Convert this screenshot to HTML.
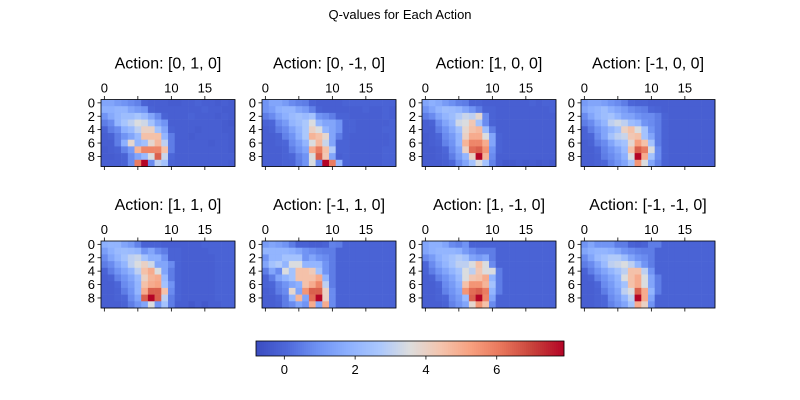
<!DOCTYPE html>
<html><head><meta charset="utf-8"><style>
html,body{margin:0;padding:0;background:#fff}
svg{display:block;font-family:"Liberation Sans","DejaVu Sans",sans-serif}
</style></head><body>
<svg id="fig" width="800" height="400" viewBox="0 0 800 400">
<rect width="800" height="400" fill="#fff"/>
<text x="400" y="19" text-anchor="middle" font-size="13">Q-values for Each Action</text>
</svg>
<script>
const actionTitles = ["Action: [0, 1, 0]","Action: [0, -1, 0]","Action: [1, 0, 0]","Action: [-1, 0, 0]","Action: [1, 1, 0]","Action: [-1, 1, 0]","Action: [1, -1, 0]","Action: [-1, -1, 0]"];
const xTicks = [0,5,10,15];
const xTickLabels = ["0","","10","15"];
const yTicks = [0,2,4,6,8];
const cbTicks = [0,2,4,6];
const vMin = -0.8, vMax = 7.9;
const q0 = [
[1.5,1.5,1.2,1,0.8,0.6,-0.1,-0.2,-0.2,-0.2,-0.3,-0.3,-0.2,-0.2,-0.1,-0.2,-0.2,-0.3,-0.2,-0.3],
[1.8,1.8,2,2,1.5,1.2,1,-0.1,-0.2,-0.2,-0.2,-0.2,-0.2,-0.2,-0.2,-0.1,-0.2,-0.2,-0.3,-0.3],
[1,1.6,2,2.3,2.3,2.6,2.2,1.5,0.8,-0.1,-0.2,-0.2,-0.2,-0.1,-0.2,-0.2,-0.2,-0.3,-0.2,-0.3],
[0.5,0.8,2,2.6,3,3.5,3.3,2.5,1.5,1,-0.2,-0.2,-0.2,-0.2,-0.2,-0.2,-0.2,-0.2,-0.3,-0.4],
[-0.1,0.5,0.8,1.8,2.2,3,4,4,2.5,1.5,-0.1,-0.2,-0.2,-0.2,-0.3,-0.2,-0.2,-0.2,-0.3,-0.3],
[-0.2,-0.1,0.5,1,1.5,2.2,4.5,4.5,4.5,2,0.5,-0.2,-0.2,-0.3,-0.2,-0.2,-0.2,-0.2,-0.2,-0.3],
[-0.2,-0.2,0.5,1.8,3.8,2,2.4,3.8,4.7,3,0.5,-0.2,-0.2,-0.2,-0.2,-0.2,-0.3,-0.2,-0.2,-0.3],
[-0.3,-0.2,-0.1,0.6,1.2,4.8,5.8,5.8,5.8,4.5,0.5,-0.2,-0.2,-0.2,-0.2,-0.2,-0.2,-0.2,-0.2,-0.3],
[-0.3,-0.3,-0.2,-0.1,0.8,1.5,2.2,3.5,6.5,3.2,0,-0.2,-0.2,-0.2,-0.2,-0.2,-0.2,-0.2,-0.2,-0.2],
[-0.2,-0.2,-0.2,-0.1,0.8,6,7.9,0.8,3,2.5,-0.1,-0.2,-0.2,-0.2,-0.2,-0.2,-0.2,-0.2,-0.2,-0.3]];
const q1 = [
[1,1.5,1.5,1.2,0.8,0.6,0.5,-0.1,-0.2,-0.2,-0.2,-0.2,-0.1,-0.1,-0.1,-0.1,-0.1,-0.1,-0.1,-0.1],
[1,1.3,1.8,2,2,1.5,1.2,0.6,-0.1,-0.2,-0.2,-0.2,-0.2,-0.2,-0.2,-0.1,-0.2,-0.2,-0.1,-0.2],
[0.5,0.8,1.4,1.8,2.2,2.4,2.2,2.5,1,0.8,0.5,-0.1,-0.1,-0.2,-0.2,-0.2,-0.2,-0.2,-0.1,-0.2],
[-0.1,0,0.8,1.2,2,2.3,2.7,3.5,2,1.5,1.5,1,-0.1,-0.1,-0.2,-0.2,-0.2,-0.2,-0.2,-0.1],
[-0.2,-0.1,0.5,0.8,1.4,2,2.7,4,3.5,2,1.5,1,-0.1,-0.1,-0.2,-0.2,-0.2,-0.2,-0.1,-0.1],
[-0.2,-0.2,-0.1,0.6,1,1.8,2.7,4.8,4.5,3.8,1.5,0.5,-0.1,-0.2,-0.2,-0.2,-0.2,-0.2,-0.2,-0.1],
[-0.2,-0.2,-0.1,0,0.8,1.3,2,3.5,4.7,3.2,1.5,-0.1,-0.1,-0.2,-0.2,-0.2,-0.2,-0.2,-0.2,-0.1],
[-0.2,-0.2,-0.2,-0.1,0.5,1,1.5,5,6,4.5,2.8,-0.1,-0.1,-0.2,-0.2,-0.2,-0.2,-0.2,-0.1,-0.1],
[-0.2,-0.2,-0.2,-0.1,0,0.6,1,3.5,6.5,4.3,1.5,-0.2,-0.1,-0.2,-0.2,-0.2,-0.2,-0.2,-0.1,-0.1],
[-0.2,-0.2,-0.2,-0.1,-0.1,0.5,1,3.5,0.8,7.9,6,2,-0.1,-0.2,-0.2,-0.2,-0.2,-0.2,-0.1,-0.1]];
const q2 = [
[1.5,1.8,1.6,1.2,0.9,0.6,0.5,-0.1,-0.1,-0.2,-0.2,-0.2,-0.2,-0.2,-0.2,-0.2,-0.1,-0.2,-0.1,-0.1],
[1,1.5,2,2.3,2.2,2,1.5,1,0.5,-0.1,-0.1,-0.2,-0.2,-0.2,-0.2,-0.2,-0.2,-0.2,-0.2,-0.1],
[0.5,0.8,1.5,2,2.3,2.8,3.2,3,3.8,0.8,-0.1,-0.2,-0.2,-0.2,-0.2,-0.2,-0.2,-0.2,-0.2,-0.2],
[-0.2,-0.1,0.8,1.5,2,3.3,3.5,4.3,2.5,0.8,-0.1,-0.2,-0.2,-0.2,-0.2,-0.2,-0.2,-0.2,-0.2,-0.2],
[-0.2,-0.2,0.5,1,1.6,2.4,3.8,4.5,4.7,2.3,0.5,-0.2,-0.2,-0.2,-0.2,-0.2,-0.2,-0.2,-0.2,-0.2],
[-0.3,-0.2,0,0.8,1.2,2,4,5,5,3.5,1.5,-0.1,-0.2,-0.2,-0.2,-0.2,-0.2,-0.2,-0.2,-0.2],
[-0.3,-0.2,-0.1,0.6,1,2,4.8,5.8,5.8,5,1.5,-0.1,-0.2,-0.2,-0.2,-0.2,-0.2,-0.2,-0.2,-0.2],
[-0.3,-0.3,-0.2,0,0.8,1.5,4,6.3,6.5,5.5,1,-0.1,-0.2,-0.2,-0.2,-0.2,-0.2,-0.2,-0.2,-0.2],
[-0.3,-0.3,-0.2,-0.1,0.5,1.2,2,4,7.9,4.8,0.8,-0.2,-0.2,-0.2,-0.2,-0.2,-0.2,-0.2,-0.2,-0.2],
[-0.3,-0.3,-0.3,-0.2,0,0.8,1.5,2.5,3.5,2.5,0.6,-0.2,-0.4,-0.4,-0.3,-0.4,-0.3,-0.4,-0.3,-0.4]];
const q3 = [
[1.2,1.5,1.5,1.3,1,0.8,0.5,0,-0.1,-0.1,-0.2,-0.2,-0.2,-0.2,-0.2,-0.2,-0.2,-0.2,-0.2,-0.2],
[1.5,1.8,2,2.3,1.8,1.5,1.2,0.8,0.6,0.5,0,-0.1,-0.2,-0.2,-0.2,-0.2,-0.2,-0.2,-0.2,-0.2],
[0.8,1.5,2,2.3,2.5,2,1.5,1.4,1,0.8,0.8,0.5,-0.1,-0.2,-0.2,-0.2,-0.2,-0.2,-0.2,-0.2],
[0.5,0.8,1.5,2,3,3.3,3,2.3,2,1,0.8,0.5,-0.1,-0.2,-0.2,-0.2,-0.2,-0.2,-0.2,-0.2],
[-0.1,0.5,1,1.5,2,2.5,4,4.5,3.5,2.5,1,0.5,-0.1,-0.2,-0.2,-0.2,-0.2,-0.2,-0.2,-0.2],
[-0.1,0,0.8,1.5,2.5,3,3.2,4.3,4.5,2.5,1.5,0.5,-0.1,-0.2,-0.2,-0.2,-0.2,-0.2,-0.2,-0.2],
[-0.2,-0.1,0.5,0.8,1.5,2.2,2.5,3.8,5.3,4.5,2.5,0.5,-0.1,-0.2,-0.2,-0.2,-0.2,-0.2,-0.2,-0.2],
[-0.2,-0.2,0,0.6,1,1.5,2.2,4.5,6.5,6,3.5,0.8,-0.1,-0.2,-0.2,-0.2,-0.2,-0.2,-0.2,-0.2],
[-0.2,-0.2,-0.1,0.5,0.8,1.2,1.8,3.5,7.9,5,2.5,0.8,-0.1,-0.2,-0.2,-0.2,-0.2,-0.2,-0.2,-0.2],
[-0.2,-0.2,-0.1,0,0.6,1,1.5,2.5,5.5,3.5,1.5,0.6,-0.1,-0.2,-0.2,-0.2,-0.2,-0.2,-0.2,-0.2]];
const q4 = [
[1.8,2,2,1.5,1.2,0.6,-0.1,-0.1,-0.1,-0.2,-0.2,-0.2,-0.2,-0.2,-0.2,-0.1,-0.1,-0.1,-0.1,-0.1],
[1.3,1.8,2.2,2.3,2.2,2,1,1.5,0.8,0.5,-0.1,-0.1,-0.2,-0.2,-0.2,-0.2,-0.1,-0.1,-0.1,-0.1],
[0.8,1.5,2,2.5,3,3.2,2.5,1.8,1.8,1,-0.1,-0.1,-0.2,-0.2,-0.2,-0.2,-0.2,-0.1,-0.1,-0.1],
[0.5,0.8,1.5,2,3,3.5,4,3.3,1.5,1.5,0.8,-0.1,-0.2,-0.2,-0.2,-0.2,-0.2,-0.1,-0.1,-0.1],
[-0.1,0.5,1,1.5,2,3,4.5,5,3.5,1.5,0.5,-0.1,-0.2,-0.2,-0.2,-0.2,-0.2,-0.1,-0.1,-0.1],
[-0.2,-0.1,0.6,1,1.5,2.2,4,4.8,5,2.2,0.5,-0.1,-0.2,-0.2,-0.2,-0.2,-0.2,-0.1,-0.1,-0.1],
[-0.2,-0.2,0,0.8,1.2,2,4.5,5,5.2,2.5,1,-0.1,-0.2,-0.2,-0.2,-0.2,-0.2,-0.1,-0.1,-0.1],
[-0.2,-0.2,-0.1,0.5,1,2,5,6.5,6.5,4.5,0.8,-0.1,-0.2,-0.2,-0.2,-0.2,-0.2,-0.1,-0.1,-0.1],
[-0.2,-0.2,-0.1,0,0.8,1.5,6.5,7.9,6.5,3,0.5,-0.1,-0.2,-0.2,-0.2,-0.2,-0.2,-0.1,-0.1,-0.1],
[-0.2,-0.2,-0.2,-0.1,0.5,1,1.5,3.5,1,2.5,0.5,-0.2,-0.2,-0.4,-0.2,-0.4,-0.2,-0.2,-0.1,-0.1]];
const q5 = [
[1.2,1.5,1.3,1,0.5,-0.1,-0.1,-0.2,-0.2,-0.1,0.6,0.5,-0.1,-0.1,-0.1,-0.1,-0.1,-0.1,-0.1,-0.1],
[2,2,2,2,1.8,1.5,1,0.8,0.6,0.5,0.5,-0.1,-0.1,-0.1,-0.1,-0.1,-0.1,-0.1,-0.1,-0.1],
[1,2,2,2.5,2.5,2.5,1,1.5,1,0.8,0.5,-0.1,-0.1,-0.1,-0.1,-0.1,-0.1,-0.1,-0.1,-0.1],
[1.5,2.5,2.8,2,3.5,3.5,2,2,2,1,0.5,-0.1,-0.1,-0.1,-0.1,-0.1,-0.1,-0.1,-0.1,-0.1],
[0.5,1.5,0.8,3.5,2.5,4.5,4.5,4.2,2.5,1,0.5,-0.1,-0.1,-0.1,-0.1,-0.1,-0.1,-0.1,-0.1,-0.1],
[-0.1,0.5,1.5,2,2.5,4.5,4.5,4.5,5,2,0.5,-0.1,-0.1,-0.1,-0.1,-0.1,-0.1,-0.1,-0.1,-0.1],
[-0.1,0,0.6,1,1.5,1.8,4.5,5,5.8,3,0.5,-0.1,-0.1,-0.1,-0.1,-0.1,-0.1,-0.1,-0.1,-0.1],
[-0.2,-0.1,0.5,0.8,3.8,1.5,5.5,6.5,6.5,4,0.8,-0.1,-0.1,-0.1,-0.1,-0.1,-0.1,-0.1,-0.1,-0.1],
[-0.2,-0.2,0,0.5,2,4.8,1.5,6.3,7.9,4,0.8,-0.1,-0.1,-0.1,-0.1,-0.1,-0.1,-0.1,-0.1,-0.1],
[-0.2,-0.2,-0.1,0.5,0.8,1.5,1,5,1.5,5,0.8,-0.1,-0.1,-0.1,-0.1,-0.1,-0.1,-0.1,-0.1,-0.1]];
const q6 = [
[1.5,1.8,1.8,1.5,0.8,0.6,1,-0.1,-0.1,-0.1,-0.1,-0.1,-0.1,-0.1,-0.1,-0.1,-0.1,-0.1,-0.1,-0.1],
[1.5,1.8,2,2,2,1.8,1.2,0.8,0.5,0.5,0.5,-0.1,-0.1,-0.1,-0.1,-0.1,-0.1,-0.1,-0.1,-0.1],
[0.8,1.2,1.8,2.2,2.5,2.8,2.5,1.5,1.2,1.5,0.5,-0.1,-0.1,-0.1,-0.1,-0.1,-0.1,-0.1,-0.1,-0.1],
[0,0.8,1.5,2,2.5,3,3,3.5,4.5,3.5,0.8,-0.1,-0.1,-0.1,-0.1,-0.1,-0.1,-0.1,-0.1,-0.1],
[-0.1,0.5,1,1.5,2,2.5,3.5,3,4.3,3.5,3.5,0.5,-0.1,-0.1,-0.1,-0.1,-0.1,-0.1,-0.1,-0.1],
[-0.2,-0.1,0.6,1,1.5,2.2,3.5,4.3,4.5,5,2,0.5,-0.1,-0.1,-0.1,-0.1,-0.1,-0.1,-0.1,-0.1],
[-0.2,-0.2,0,0.8,1.2,1.8,4.5,5.5,5.5,4.8,2.5,0.5,-0.1,-0.1,-0.1,-0.1,-0.1,-0.1,-0.1,-0.1],
[-0.2,-0.2,-0.1,0.6,1,1.5,5.5,6.3,6.5,6,2,0.5,-0.1,-0.1,-0.1,-0.1,-0.1,-0.1,-0.1,-0.1],
[-0.2,-0.2,-0.1,0,0.8,1.2,2.2,6.5,7.9,5.8,1.5,-0.1,-0.1,-0.1,-0.1,-0.1,-0.1,-0.1,-0.1,-0.1],
[-0.2,-0.2,-0.2,-0.1,0.6,1,1.5,3.8,5.5,4.5,0.8,-0.1,-0.1,-0.1,-0.1,-0.1,-0.1,-0.1,-0.1,-0.1]];
const q7 = [
[1,1.5,1,1,1,0.5,0.5,-0.1,-0.2,-0.1,0.5,0.5,-0.1,-0.1,-0.1,-0.1,-0.1,-0.1,-0.1,-0.1],
[1.5,1.8,2,2,1.8,1.5,1,0.8,0.6,0.5,0.5,-0.1,-0.1,-0.1,-0.1,-0.1,-0.1,-0.1,-0.1,-0.1],
[0.8,1.5,2.2,2.5,2.8,2.8,2.3,1.5,1,0.8,0.5,-0.1,-0.1,-0.1,-0.1,-0.1,-0.1,-0.1,-0.1,-0.1],
[0.5,0.8,1.5,2.2,3,3.2,3.5,3,2,1,0.5,-0.1,-0.1,-0.1,-0.1,-0.1,-0.1,-0.1,-0.1,-0.1],
[-0.1,0.5,1,1.5,2,2.5,3,4.5,4.5,3,1,-0.1,-0.1,-0.1,-0.1,-0.1,-0.1,-0.1,-0.1,-0.1],
[-0.2,-0.1,0.6,1,1.5,2,3.5,4.5,5,3.5,1.5,0.5,-0.1,-0.1,-0.1,-0.1,-0.1,-0.1,-0.1,-0.1],
[-0.2,-0.2,0,0.8,1.2,1.8,2.5,4.5,5,3.5,1.5,0.5,-0.1,-0.1,-0.1,-0.1,-0.1,-0.1,-0.1,-0.1],
[-0.2,-0.2,-0.1,0.5,1,1.5,3,3.5,6.5,5,2,0.5,-0.1,-0.1,-0.1,-0.1,-0.1,-0.1,-0.1,-0.1],
[-0.2,-0.2,-0.1,0,0.8,1.2,2,3,7.9,5,1.5,-0.1,-0.1,-0.1,-0.1,-0.1,-0.1,-0.1,-0.1,-0.1],
[-0.2,-0.2,-0.1,0,0.6,1,1.5,2.5,5,4,1,-0.1,-0.1,-0.1,-0.1,-0.1,-0.1,-0.1,-0.1,-0.1]];
const panels = [q0,q1,q2,q3,q4,q5,q6,q7];

const NS = "http://www.w3.org/2000/svg";
const svg = document.getElementById('fig');
const stops = [[59,76,192],[78,104,218],[111,146,243],[141,176,254],[170,199,253],[221,221,221],[244,196,173],[247,159,126],[231,116,90],[199,65,58],[180,4,38]];
function cmap(v){
  let t = (v - vMin) / (vMax - vMin); t = Math.max(0, Math.min(1, t));
  const p = t * 10, i = Math.min(9, Math.floor(p)), f = p - i;
  const a = stops[i], b = stops[i+1];
  return `rgb(${Math.round(a[0]+(b[0]-a[0])*f)},${Math.round(a[1]+(b[1]-a[1])*f)},${Math.round(a[2]+(b[2]-a[2])*f)})`;
}
function mk(tag, attrs, parent){
  const e = document.createElementNS(NS, tag);
  for (const k in attrs) e.setAttribute(k, attrs[k]);
  (parent || svg).appendChild(e); return e;
}
const axX = [101, 262, 422, 581], axY = [99.5, 241];
const cell = 6.7, W = 134, H = 67;
panels.forEach((data, p) => {
  const ox = axX[p % 4], oy = axY[Math.floor(p / 4)];
  const g = mk('g', {});
  
  
  const xs = c => ox + c * cell, ys = r => oy + r * cell;
  data.forEach((row, r) => row.forEach((v, c) => {
    const rc = mk('rect', {x: xs(c), y: ys(r), width: cell + 0.3, height: cell + 0.3, fill: cmap(v)}, g);
    
    
  }));
  const fr = mk('rect', {x: ox, y: oy, width: W, height: H, fill: 'none', stroke: '#000', 'stroke-width': 0.8}, g);
  
  
  const tt = mk('text', {x: ox + W / 2, y: oy - 31, 'text-anchor': 'middle', 'font-size': 16}, g);
  tt.textContent = actionTitles[p];
  
  
  xTicks.forEach((t, i) => {
    const x = xs(t + 0.5);
    mk('line', {x1: x, x2: x, y1: oy, y2: oy - 3.5, stroke: '#000', 'stroke-width': 0.8}, g);
    mk('line', {x1: x, x2: x, y1: oy + H, y2: oy + H + 3.5, stroke: '#000', 'stroke-width': 0.8}, g);
    const lb = mk('text', {x: x, y: oy - 7, 'text-anchor': 'middle', 'font-size': 13}, g);
    lb.textContent = xTickLabels[i];
    
    
  });
  yTicks.forEach(t => {
    const y = ys(t + 0.5);
    mk('line', {x1: ox, x2: ox - 3.5, y1: y, y2: y, stroke: '#000', 'stroke-width': 0.8}, g);
    const lb = mk('text', {x: ox - 6, y: y + 4.5, 'text-anchor': 'end', 'font-size': 13}, g);
    lb.textContent = t;
    
    
  });
});
const cbX = 256, cbY = 341, cbW = 308, cbH = 15;
const cb = mk('g', {});


const cbx = v => cbX + (v - vMin) / (vMax - vMin) * cbW;
for (let i = 0; i < 154; i++) {
  const v = vMin + (i + 0.5) / 154 * (vMax - vMin);
  mk('rect', {x: cbX + i * 2, y: cbY, width: 2.3, height: cbH, fill: cmap(v)}, cb);
}
mk('rect', {x: cbX, y: cbY, width: cbW, height: cbH, fill: 'none', stroke: '#000', 'stroke-width': 0.8}, cb);
cbTicks.forEach(t => {
  const x = cbx(t);
  mk('line', {x1: x, x2: x, y1: cbY + cbH, y2: cbY + cbH + 3.5, stroke: '#000', 'stroke-width': 0.8}, cb);
  const lb = mk('text', {x: x, y: cbY + cbH + 18, 'text-anchor': 'middle', 'font-size': 13}, cb);
  lb.textContent = t;
  
  
});
</script>
</body></html>
